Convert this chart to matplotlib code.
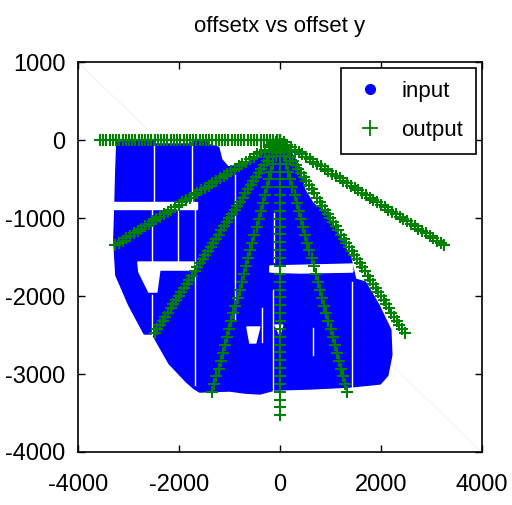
import numpy as np
import matplotlib
matplotlib.use("Agg")
import matplotlib.pyplot as plt
from matplotlib.lines import Line2D

plt.rcParams['font.family'] = ['Liberation Sans', 'DejaVu Sans']
plt.rcParams['axes.unicode_minus'] = False

# ---- input: outline of the recorded offset cloud (offset x, offset y) ----
input_outline_x = [-3208, -2515, -2475, -1762, -1703, -1465, -1386, -1228, -1168, -1030,
                   -792, -495, -238, 0, 198, 356, 475, 634, 752, 891, 1148, 1386, 1485,
                   1683, 1940, 2178, 2198, 2119, 1980, 1386, 594, -99, -396, -693, -990,
                   -1584, -1683, -1841, -2178, -2515, -2673, -2970, -3227, -3267, -3247,
                   -3227]
input_outline_y = [-38, -26, -64, -64, -26, -26, -77, -103, -256, -359,
                   -333, -256, -154, -103, -154, -333, -641, -810, -880, -923, -1218, -1513,
                   -1795, -1833, -2115, -2436, -2756, -3013, -3115, -3154, -3179, -3192,
                   -3243, -3231, -3205, -3218, -3179, -3090, -2859, -2474, -2474, -2115,
                   -1731, -1282, -872, -385]

# empty patches inside the cloud
gap_polys = [
    ([-3330, -1643, -1643, -3330], [-800, -800, -880, -880]),
    ([-2812, -1703, -1703, -2376, -2435, -2594, -2792],
     [-1564, -1564, -1667, -1667, -1949, -1949, -1692]),
    ([-198, 1445, 1445, 396, -198], [-1615, -1590, -1692, -1705, -1692]),
    ([-653, -396, -475, -594], [-2397, -2397, -2602, -2602]),
    ([-99, 59, 0], [-2372, -2372, -2500]),
]

# thin empty seams between acquisition strips: x, y_top, y_bottom
seam_x = [-2495, -1742, -2534, -2534, -2020, -1683, -891, -356, -139, -119, 653, 1426]
seam_top = [-26, -26, -872, -1987, -897, -897, -449, -2154, -1923, -936, -2410, -1820]
seam_bot = [-808, -808, -1564, -2500, -1564, -3141, -2308, -2590, -3205, -1564, -2756, -3167]

# ---- output: rays from the origin ----
ray_angle_deg = [180, 202.5, 225, 247.5, 270, 292.5, 315, 337.5]
ray_length = [3560, 3530, 3500, 3500, 3530, 3500, 3500, 3530]
ray_count = [57, 45, 48, 33, 36, 33, 48, 45]

title = "offsetx vs offset y"
x_ticks = [-4000, -2000, 0, 2000, 4000]
y_ticks = [1000, 0, -1000, -2000, -3000, -4000]

blue = '#0000ff'
green = '#008000'

fig = plt.figure(figsize=(5.12, 5.05), dpi=100)
ax = fig.add_axes([0.152, 0.105, 0.789, 0.772])

# faint corner-to-corner streak
ax.plot([-4000, 4000], [1000, -4000], color='#f5f5f5', lw=1, zorder=0)

ax.fill(input_outline_x, input_outline_y, facecolor=blue, edgecolor=blue,
        lw=2.5, joinstyle='round', zorder=1)
for gx, gy in gap_polys:
    ax.fill(gx, gy, facecolor='white', edgecolor='white', lw=1.0, zorder=2)
for sx, st, sb in zip(seam_x, seam_top, seam_bot):
    ax.plot([sx, sx], [st, sb], color='white', lw=1.0, zorder=2)

for ang, length, n in zip(ray_angle_deg, ray_length, ray_count):
    r = np.linspace(0, length, n)
    a = np.deg2rad(ang)
    ax.plot(r * np.cos(a), r * np.sin(a), ls='none', marker='+', color=green,
            markersize=9, markeredgewidth=1.5, zorder=3)

ax.set_xlim(-4000, 4000)
ax.set_ylim(-4000, 1000)
ax.set_xticks(x_ticks)
ax.set_yticks(y_ticks)
ax.tick_params(direction='in', top=True, right=True, length=5, width=1,
               labelsize=17)
ax.tick_params(axis='x', pad=16)
ax.tick_params(axis='y', pad=9)
for s in ax.spines.values():
    s.set_linewidth(1.2)

ax.set_title(title, fontsize=16, pad=22)

handles = [Line2D([], [], ls='none', marker='o', color=blue, markersize=7),
           Line2D([], [], ls='none', marker='+', color=green, markersize=11,
                  markeredgewidth=1.3)]
leg = ax.legend(handles, ['input', 'output'], loc='upper right', fontsize=16,
                fancybox=False, framealpha=1, edgecolor='black',
                borderaxespad=0.25, handletextpad=0.65, borderpad=0.6,
                labelspacing=0.8, handlelength=1.45)
leg.get_frame().set_linewidth(1.2)

fig.savefig('out.png', dpi=100)
